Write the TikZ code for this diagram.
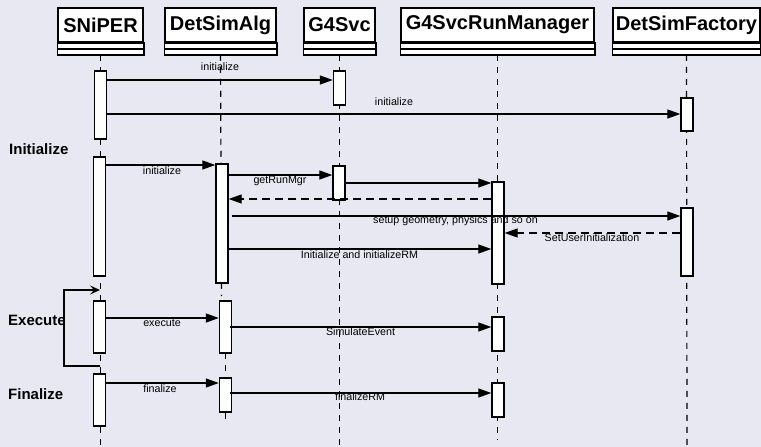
\documentclass[tikz,border=0pt]{standalone}
\usepackage{fontspec}
\setmainfont{Liberation Sans}
\usetikzlibrary{arrows.meta}
\definecolor{bgc}{RGB}{232,232,242}
\tikzset{
  head/.style={draw, fill=white, line width=1.5pt, inner sep=0pt, minimum height=34pt,
               font=\fontsize{20}{24}\selectfont\bfseries},
  comp/.style={draw, fill=white, line width=1.5pt},
  act/.style={draw, fill=white, line width=1.4pt, inner sep=0pt, minimum width=12pt},
  life/.style={line width=1.2pt, dash pattern=on 6pt off 6pt},
  msg/.style={line width=1.3pt, -{Triangle[length=13pt,width=9pt]}},
  ret/.style={line width=1.3pt, dash pattern=on 8pt off 5pt, -{Triangle[length=13pt,width=9pt]}},
  lbl/.style={font=\fontsize{10.7}{12}\selectfont, inner sep=0pt},
  sect/.style={font=\fontsize{15}{18}\selectfont\bfseries, inner sep=0pt, anchor=west},
  loopline/.style={line width=1.5pt, -{Stealth[length=10pt,width=9pt,inset=4pt]}}
}
\begin{document}
\begin{tikzpicture}[x=1pt,y=-1pt]
\fill[bgc] (0,0) rectangle (761,447);
\useasboundingbox (0,0) rectangle (761,447);

% headers
\node[head, minimum width=85pt] (hS) at (100.5,25) {SNiPER};
\node[head, minimum width=111pt] (hA) at (220.5,25) {DetSimAlg};
\node[head, minimum width=71pt] (hG) at (339.5,25) {G4Svc};
\node[head, minimum width=193pt] (hR) at (497.5,25) {G4SvcRunManager};
\node[head, minimum width=147pt] (hF) at (686.5,25) {DetSimFactory};
\foreach \h in {hS,hA,hG,hR,hF}{
  \draw[comp] (\h.south west) rectangle ([yshift=-6pt]\h.south east);
  \draw[comp] ([yshift=-6pt]\h.south west) rectangle ([yshift=-12pt]\h.south east);
}

% lifeline end points
\coordinate (eS) at (100.5,447);
\coordinate (eA1) at (221.5,296);
\coordinate (eA2) at (225.5,420);
\coordinate (eG) at (339.5,447);
\coordinate (eR) at (497.5,440);
\coordinate (eF) at (687,447);
\draw[life] ([yshift=-12pt]hS.south) -- (eS);
\draw[life] ([yshift=-12pt]hA.south) -- (eA1);
\draw[life] (225.5,353) -- (eA2);
\draw[life] ([yshift=-12pt]hG.south) -- (eG);
\draw[life] ([yshift=-12pt]hR.south) -- (eR);
\draw[life] ([yshift=-12pt]hF.south) -- (eF);

% activations
\node[act, minimum height=68pt] (S1) at (100.5,105) {};
\node[act, minimum height=34pt] (G1) at (339.5,88) {};
\node[act, minimum height=33pt] (F1) at (687,114.5) {};
\node[act, minimum height=119pt] (S2) at (99.5,216.5) {};
\node[act, minimum height=119pt] (A2) at (222,223.5) {};
\node[act, minimum height=34pt] (G2) at (339,183) {};
\node[act, minimum height=102pt] (R2) at (498,233) {};
\node[act, minimum height=68pt] (F2) at (687,242) {};
\node[act, minimum height=52pt] (S3) at (99.5,327) {};
\node[act, minimum height=52pt] (A3) at (225.5,327) {};
\node[act, minimum height=34pt] (R3) at (498,334) {};
\node[act, minimum height=52pt] (S4) at (99.5,400) {};
\node[act, minimum height=34pt] (A4) at (225.5,395) {};
\node[act, minimum height=34pt] (R4) at (498,400) {};

% messages
\draw[msg] (S1.east |- 0,80) -- (G1.west |- 0,80);
\node[lbl] (l1) at (220,67) {initialize};
\draw[msg] (S1.east |- 0,114) -- (F1.west |- 0,114);
\node[lbl] (l2) at (394,102) {initialize};
\draw[msg] (S2.east |- 0,165) -- (A2.west |- 0,165);
\node[lbl] (l3) at (162,171) {initialize};
\draw[msg] (A2.east |- 0,175) -- (G2.west |- 0,175);
\node[lbl] (l4) at (280,181) {getRunMgr};
\draw[msg] (G2.east |- 0,183) -- (R2.west |- 0,183);
\draw[ret] (R2.west |- 0,199) -- (A2.east |- 0,199);
\draw[msg] ([xshift=3pt]A2.east |- 0,216) -- (F2.west |- 0,216);
\node[lbl] (l5) at (455.5,221) {setup geometry, physics and so on};
\draw[ret] (F2.west |- 0,233) -- (R2.east |- 0,233);
\node[lbl] (l6) at (592,238) {SetUserInitialization};
\draw[msg] (A2.east |- 0,249) -- (R2.west |- 0,249);
\node[lbl] (l7) at (359.5,255) {Initialize and initializeRM};
\draw[msg] (S3.east |- 0,318) -- (A3.west |- 0,318);
\node[lbl] (l8) at (162,323) {execute};
\draw[msg] ([xshift=-2pt]A3.east |- 0,327) -- (R3.west |- 0,327);
\node[lbl] (l9) at (360.5,332) {SimulateEvent};
\draw[msg] (S4.east |- 0,383) -- (A4.west |- 0,383);
\node[lbl] (l10) at (160,389) {finalize};
\draw[msg] ([xshift=-2pt]A4.east |- 0,393) -- (R4.west |- 0,393);
\node[lbl] (l11) at (360,397) {finalizeRM};

% loop
\coordinate (lp1) at (100,366);
\coordinate (lp2) at (100,290);
\draw[loopline] (lp1) -- ++(-36,0) |- (lp2);

% section labels
\node[sect] (sI) at (9,149) {Initialize};
\node[sect] (sE) at (8,320) {Execute};
\node[sect] (sF) at (8,394) {Finalize};
\end{tikzpicture}
\end{document}
